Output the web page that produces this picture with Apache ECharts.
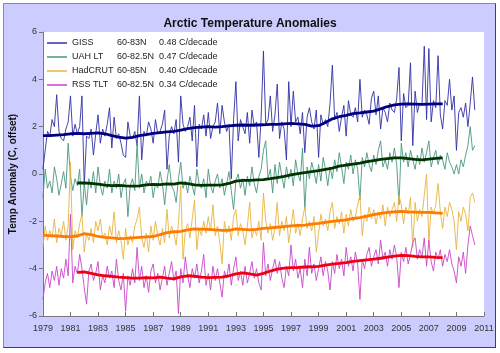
<!DOCTYPE html>
<html>
<head>
<meta charset="utf-8">
<title>Arctic Temperature Anomalies</title>
<script src="https://cdn.jsdelivr.net/npm/echarts@6.0.0/dist/echarts.min.js"></script>
<style>
    body { margin: 0; background: #fff; }
    #frame { position: absolute; left: 3px; top: 3px; width: 491px; height: 343px; background: #ccccff; border: 1px solid #8a8a9a; border-right-color: #444; border-bottom-color: #444; }
    #main { position: absolute; left: 0; top: 0; width: 500px; height: 353px; }
</style>
</head>
<body>
<div id="frame"></div>
<div id="main"></div>
<script>
var monthStep = 2 / 12;
var smoothStep = 0.5;

var seriesNames = ['GISS', 'UAH LT', 'HadCRUT', 'RSS TLT'];
var bands = ['60-83N', '60-82.5N', '60-85N', '60-82.5N'];
var trends = ['0.48 C/decade', '0.47 C/decade', '0.40 C/decade', '0.34 C/decade'];

var giss = [
    0.2, 1.0, 1.8, 1.6, 2.3, 2.0,
    3.35, 1.8, 1.5, 1.4, 1.9, 2.2,
    3.3, 1.6, 2.1, 1.7, 2.0, 3.3,
    -0.5, 1.6, 1.5, 1.9, 0.8, 1.7,
    2.5, 1.3, 1.9, 1.6, 2.1, 2.8,
    1.1, 2.4, 1.5, 1.7, 1.3, 0.8,
    0.7, 2.2, 1.6, 1.5, 1.8, 1.2,
    3.3, 0.6, 1.8, 1.6, 2.2, 1.9,
    1.3, 2.3, 1.7, 1.8, 2.1, 2.7,
    0.2, 1.6, 2.0, 1.7, 2.3, 0.5,
    3.3, 2.1, 1.8, 2.0, 2.4, 1.4,
    2.9, 0.3, 2.1, 1.9, 2.5, 1.6,
    2.6, 1.5, 2.0, 2.2, 3.0, 1.7,
    2.9, 2.2, 1.8, 2.1, -0.2, 2.3,
    3.9, 1.4, 2.3, 2.0, 1.7, 2.6,
    1.3, 2.7, 2.0, 2.2, 0.7, 2.4,
    5.2, 2.1, 2.3, 3.3, 1.8, 2.5,
    3.8, 1.5, 2.2, 1.9, 0.6, 3.9,
    2.0, 3.5, 2.2, 2.4, 1.7, 2.6,
    0.9, 2.4, 2.8, 2.2, 1.9, 2.7,
    0.7, 2.5, 2.1, 2.3, 2.0, 3.0,
    4.6, 2.3, 2.6, 1.8, 2.4, 2.9,
    1.6, 3.1, 2.5, 2.4, 2.8, 2.2,
    4.0, 2.4, 2.7, 2.5, 2.1, 3.2,
    3.5, 2.5, 3.3, 1.9, 2.8, 2.6,
    2.2, 3.0, 2.7, 2.6, 3.2, 4.5,
    1.4, 3.4, 2.8, 2.9, 4.7, 1.2,
    3.5, 2.6, 3.0, 2.9, 5.4, 2.3,
    5.3, 2.2, 3.1, 2.8, 5.0, 2.5,
    1.9, 3.1, 2.9, 4.0, 2.7, 3.3,
    1.0, 2.6, 2.8, 2.4, 3.0, 2.0,
    3.0, 4.1, 2.7
];

var uah = [
    -1.0, 0.2, -0.6, -0.3, -0.8, 0.3,
    -0.2, -0.9, -0.4, 0.1, -0.6, 1.3,
    -0.1, -0.7, -0.2, -0.5, 0.2, -1.8,
    -0.4, -1.3, -0.2, -0.6, 0.1, -0.8,
    0.3, -0.5, -0.9, -0.3, -0.6, 0.2,
    -0.8, -0.3, -0.6, 0.0, -1.0, -0.4,
    -0.2, -1.8, -0.5, -0.2, -0.7, 1.3,
    -0.6, 0.0, -0.8, -0.3, -0.5, -0.1,
    -1.0, -0.4, -0.6, 0.1, -0.4, -1.3,
    -0.3, 0.4, -0.5, -0.7, -1.2, -0.2,
    0.5, -0.6, -0.3, -0.8, -0.1, -0.5,
    -0.9, 0.2, -0.4, -0.6, -0.2, -1.0,
    0.2, -0.5, -0.8, -0.3, 0.0, -0.6,
    -0.2, -0.9, -0.4, 0.1, -0.7, -1.5,
    -0.3, 0.0, -0.6, -0.2, -0.9, -0.1,
    -0.5, 0.3, -0.4, -0.8, -0.1, 0.2,
    1.0, 1.4, -0.2, 0.2, -0.8, 0.4,
    -0.4, 0.5, -0.1, -0.6, 0.3, -0.2,
    0.2, -0.5, 0.6, 0.0, -0.3, 1.1,
    -1.5, 0.3, -0.2, 0.5, 0.1, -0.4,
    0.4, -0.3, 0.7, 0.2, -0.5, 0.3,
    -0.2, 0.6, 0.1, 0.9, 0.3, -0.4,
    0.5, 0.2, 0.8, 0.0, 0.6, 0.2,
    -1.1, 0.7, 0.3, 0.9, 0.4, 0.1,
    0.8, 0.4, 1.0, 1.4, 0.3, 0.6,
    0.2, 0.9, 0.5, 1.1, 0.4, -1.3,
    1.3, 0.5, 0.9, 0.3, 1.0, 0.6,
    0.2, 0.8, 0.4, 1.1, 0.5, 0.9,
    1.4, 0.3, 0.7, 1.0, 0.4, 0.8,
    0.6, 0.2, 0.9, 0.5, 0.3, 0.0,
    0.4, 0.0, 0.6, 0.3, 0.8, 1.2,
    2.0, 1.0, 1.2
];

var hadcrut = [
    -3.1, -2.2, -2.8, -2.4, -2.7, -1.9,
    -2.9, -2.3, -2.6, -2.0, -2.8, -2.2,
    0.5, -3.2, -2.4, -2.7, -2.1, -1.7,
    -3.3, -2.5, -2.8, -2.3, -2.9, -2.0,
    -2.4, -1.9, -2.7, -2.5, -3.0, -2.2,
    -2.6, -1.6, -2.9, -2.4, -2.8, -3.6,
    -2.3, -3.0, -2.6, -2.9, -2.2, -1.9,
    -1.4, -2.7, -3.1, -2.5, -3.3, -2.2,
    -2.8, -2.0, -2.6, -3.0, -2.3, -2.9,
    -1.5, -2.7, -2.2, -2.5, -3.0, -2.1,
    -0.5, -3.6, -2.4, -2.1, -2.7, -1.9,
    -1.1, -3.2, -2.3, -2.6, -2.0, -2.5,
    -1.8, -2.4, -1.3, -2.6, -2.2, -2.9,
    -3.8, -2.0, -2.5, -2.2, -2.8, -1.8,
    -1.5, -2.6, -2.1, -2.4, -3.0, -2.2,
    -1.2, -2.7, -2.3, -2.6, -2.0, -2.8,
    -0.8, -2.0, -2.5, -2.1, -2.8, -2.3,
    -1.2, -2.6, -2.0, -2.4, -1.8, -2.9,
    -2.2, -1.5, -2.5, -2.1, -2.6, -1.9,
    -1.4, -2.3, -2.0, -2.4, -1.8, -3.3,
    -2.5, -1.7, -2.2, -1.9, -2.4, -1.6,
    -1.2, -2.3, -1.8, -2.1, -1.6, -2.5,
    -1.7, -2.2, -1.5, -2.0, -1.8, -1.3,
    -0.9, -2.6, -1.7, -2.0, -1.4, -1.9,
    -1.5, -2.1, -1.6, -1.9, -1.3, -2.2,
    -1.4, -1.8, -1.5, -1.2, -2.0, -0.9,
    -1.3, -2.1, -1.4, -1.7, -1.0, -3.1,
    -1.2, -2.0, -1.5, -1.8, -0.9, 0.0,
    -2.9, -1.4, -1.7, -1.3, -0.4, -1.6,
    -2.3, -1.4, -1.8, -1.2, -1.5, -2.0,
    -3.2, -1.6, -2.0, -1.4, -1.7, -2.4,
    -1.0, -0.8, -1.2
];

var rss = [
    -5.3, -4.6, -4.2, -4.8, -4.1, -4.5,
    -3.9, -4.7, -4.0, -4.4, -3.6, -4.3,
    -1.7, -4.6, -3.9, -4.2, -3.4, -4.0,
    -4.8, -5.5, -4.1, -3.8, -4.5, -4.2,
    -3.7, -4.9, -4.3, -4.6, -3.9, -4.4,
    -4.1, -4.8, -3.6, -4.5, -4.9, -4.2,
    -5.8, -4.3, -4.7, -4.0, -4.6, -3.1,
    -4.5, -3.9, -4.8, -4.3, -5.0, -4.1,
    -3.8, -4.6, -4.2, -4.9, -4.4, -3.9,
    -4.7, -4.2, -3.7, -4.5, -4.1, -5.9,
    -4.0, -4.6, -3.5, -4.3, -4.8, -4.0,
    -4.4, -3.8, -4.6, -4.1, -3.4, -4.7,
    -4.2, -4.9, -3.9, -4.5, -4.0, -4.6,
    -5.2, -4.1, -4.4, -3.8, -4.7, -4.0,
    -3.5, -4.5, -4.1, -4.7, -3.9, -4.6,
    -4.2, -3.7, -4.4, -4.0, -4.6, -4.9,
    -2.9, -4.3, -3.8, -4.5, -4.0, -3.6,
    -4.2, -3.7, -4.4, -4.8, -3.9, -4.3,
    -3.0, -4.1, -3.6, -4.4, -4.0, -4.8,
    -3.6, -4.3, -3.1, -4.2, -3.8, -4.5,
    -4.0, -3.5, -4.3, -3.7, -4.1, -4.9,
    -3.7, -4.2, -3.4, -4.0, -3.6, -4.3,
    -3.1, -3.9, -3.5, -4.1, -3.3, -3.8,
    -5.3, -3.6, -4.0, -3.4, -3.1, -3.9,
    -3.5, -3.2, -3.8, -2.8, -3.6, -3.3,
    -3.9, -3.2, -3.6, -3.0, -3.5, -4.8,
    -3.3, -3.7, -3.1, -3.8, -3.4, -2.9,
    -2.7, -3.6, -3.2, -3.5, -2.7, -3.9,
    -2.8, -3.7, -4.1, -3.3, -3.6, -3.2,
    -3.9, -3.4, -3.7, -3.2, -3.8, -4.1,
    -4.6, -3.5, -3.9, -3.3, -4.2, -3.0,
    -2.2, -2.6, -3.0
];

// running means, every half year
var gissSmooth = [
    1.62, 1.62, 1.64, 1.66, 1.70, 1.72, 1.70, 1.72, 1.74, 1.70,
    1.62, 1.56, 1.52, 1.55, 1.62, 1.66, 1.72, 1.75, 1.78, 1.80,
    1.85, 1.92, 1.96, 1.98, 2.00, 1.98, 2.00, 2.03, 2.06, 2.07,
    2.06, 2.07, 2.08, 2.10, 2.10, 2.12, 2.14, 2.12, 2.10, 2.02,
    2.04, 2.18, 2.33, 2.42, 2.48, 2.55, 2.58, 2.62, 2.66, 2.75,
    2.85, 2.92, 2.95, 2.96, 2.95, 2.94, 2.95, 2.96, 2.96
];
var uahSmooth = [
    -0.38, -0.38, -0.40, -0.43, -0.47, -0.49, -0.48, -0.50, -0.51, -0.50,
    -0.46, -0.44, -0.45, -0.42, -0.43, -0.38, -0.41, -0.46, -0.48, -0.47,
    -0.47, -0.46, -0.40, -0.30, -0.27, -0.27, -0.25, -0.24, -0.20, -0.15,
    -0.10, -0.04, 0.02, 0.06, 0.10, 0.14, 0.20, 0.25, 0.33, 0.38,
    0.42, 0.46, 0.52, 0.57, 0.62, 0.65, 0.68, 0.68, 0.65, 0.62,
    0.60, 0.63, 0.66, 0.68
];
var hadSmooth = [
    -2.58, -2.60, -2.62, -2.64, -2.65, -2.62, -2.52, -2.56, -2.64, -2.68,
    -2.70, -2.73, -2.72, -2.70, -2.68, -2.66, -2.64, -2.56, -2.48, -2.44,
    -2.42, -2.36, -2.32, -2.33, -2.34, -2.36, -2.38, -2.38, -2.32, -2.34,
    -2.36, -2.34, -2.30, -2.28, -2.25, -2.22, -2.19, -2.17, -2.16, -2.12,
    -2.09, -2.04, -2.00, -1.97, -1.94, -1.88, -1.84, -1.78, -1.72, -1.66,
    -1.62, -1.60, -1.58, -1.60, -1.61, -1.62, -1.62, -1.64, -1.66
];
var rssSmooth = [
    -4.16, -4.14, -4.20, -4.26, -4.30, -4.33, -4.36, -4.38, -4.40, -4.40,
    -4.38, -4.39, -4.36, -4.40, -4.43, -4.35, -4.30, -4.32, -4.36, -4.38,
    -4.37, -4.36, -4.30, -4.22, -4.18, -4.22, -4.27, -4.20, -4.10, -4.02,
    -3.98, -3.96, -3.95, -3.93, -3.92, -3.90, -3.85, -3.81, -3.78, -3.74,
    -3.69, -3.66, -3.63, -3.60, -3.56, -3.51, -3.47, -3.44, -3.45, -3.48,
    -3.50, -3.50, -3.52, -3.53
];

function toPairs(start, step, vals) {
    var out = [];
    for (var i = 0; i < vals.length; i++) {
        out.push([start + i * step, vals[i]]);
    }
    return out;
}

function thinLine(name, color, data) {
    return {
        name: name,
        type: 'line',
        showSymbol: false,
        data: toPairs(1979, monthStep, data),
        lineStyle: { width: 0.9, color: color },
        itemStyle: { color: color }
    };
}

function thickLine(color, start, data) {
    return {
        name: 'smooth',
        type: 'line',
        showSymbol: false,
        data: toPairs(start, smoothStep, data),
        lineStyle: { width: 2.8, color: color },
        z: 3
    };
}

var myChart = echarts.init(document.getElementById('main'));

var option = {
    animation: false,
    backgroundColor: 'transparent',
    title: {
        text: 'Arctic Temperature Anomalies',
        left: 'center',
        top: 13,
        textStyle: { fontSize: 12, fontWeight: 'bold', color: '#111', fontFamily: 'Liberation Sans, Arial' }
    },
    legend: {
        orient: 'vertical',
        left: 47,
        top: 36,
        padding: 0,
        itemWidth: 20,
        itemHeight: 1.5,
        itemGap: 0,
        icon: 'rect',
        data: seriesNames,
        formatter: function (name) {
            var i = seriesNames.indexOf(name);
            return '{a|' + name + '}{b|' + bands[i] + '}{c|' + trends[i] + '}';
        },
        textStyle: {
            fontSize: 9,
            color: '#222',
            lineHeight: 14,
            fontFamily: 'Liberation Sans, Arial',
            rich: {
                a: { width: 45, fontSize: 9, color: '#222', lineHeight: 14 },
                b: { width: 42, fontSize: 9, color: '#222', lineHeight: 14 },
                c: { fontSize: 9, color: '#222', lineHeight: 14 }
            }
        }
    },
    grid: {
        left: 38,
        right: 16,
        top: 32,
        bottom: 37,
        show: true,
        backgroundColor: '#ffffff',
        borderWidth: 0
    },
    xAxis: {
        type: 'value',
        min: 1979,
        max: 2011,
        interval: 2,
        axisLine: { onZero: false, lineStyle: { color: '#777' } },
        axisTick: { inside: true, length: 4, lineStyle: { color: '#777' } },
        splitLine: { show: false },
        axisLabel: {
            fontSize: 9,
            color: '#333',
            margin: 8,
            fontFamily: 'Liberation Sans, Arial',
            formatter: function (v) { return String(v); }
        }
    },
    yAxis: {
        type: 'value',
        min: -6,
        max: 6,
        interval: 2,
        name: 'Temp Anomaly (C, offset)',
        nameLocation: 'middle',
        nameGap: 22,
        nameTextStyle: { fontSize: 10, fontWeight: 'bold', color: '#111', fontFamily: 'Liberation Sans, Arial' },
        axisLine: { show: true, lineStyle: { color: '#777' } },
        axisTick: { show: true, length: 4, lineStyle: { color: '#777' } },
        splitLine: { show: false },
        axisLabel: { fontSize: 9, color: '#333', margin: 6, fontFamily: 'Liberation Sans, Arial' }
    },
    series: [
        thinLine('GISS', '#3030a6', giss),
        thinLine('UAH LT', '#4a9680', uah),
        thinLine('HadCRUT', '#e8b440', hadcrut),
        thinLine('RSS TLT', '#c846c8', rss),
        thickLine('#000080', 1979, gissSmooth),
        thickLine('#003300', 1981.5, uahSmooth),
        thickLine('#ff7a00', 1979, hadSmooth),
        thickLine('#ee0010', 1981.5, rssSmooth)
    ]
};

myChart.setOption(option);
</script>
</body>
</html>
